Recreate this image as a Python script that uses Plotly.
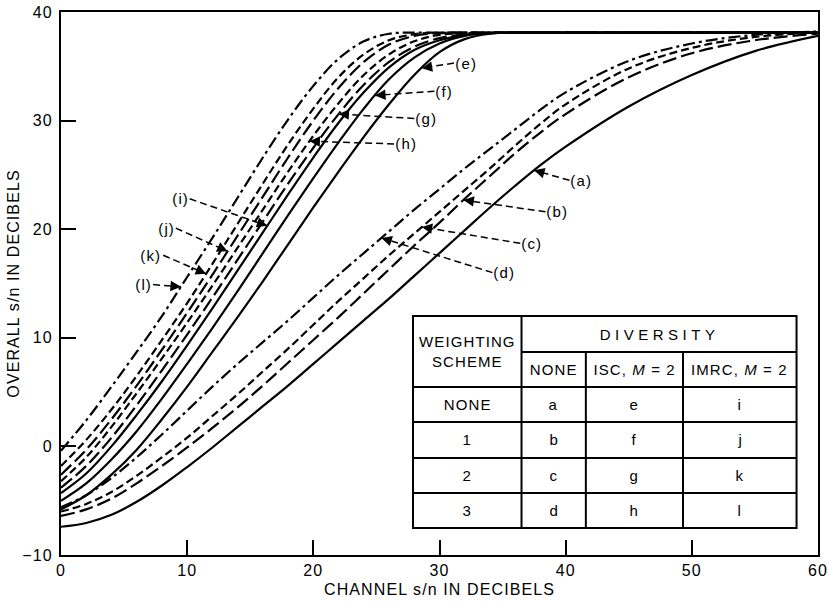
import numpy as np
import plotly.graph_objects as go

# ---- data -----------------------------------------------------------------
# channel s/n grid (dB) for the no-diversity curves a-d
x_nodiv = [0, 2, 4, 6, 8, 10, 12, 14, 16, 18, 20, 22, 24, 26, 28, 30, 32, 34,
           36, 38, 40, 45, 50, 55, 60]
# channel s/n grid (dB) for the diversity curves e-l
x_div = [0, 2, 4, 6, 8, 10, 12, 14, 16, 18, 20, 22, 24, 26, 28, 30, 32, 34,
         36, 40, 50, 60]

# overall s/n (dB), no diversity
curve_a = [-7.4, -7.05, -6.3, -5.1, -3.6, -1.9, -0.1, 1.8, 3.7, 5.6, 7.6, 9.6,
           11.6, 13.6, 15.7, 17.8, 19.9, 22.0, 24.0, 25.9, 27.6, 31.3, 34.2,
           36.4, 37.8]
curve_b = [-6.4, -5.8, -4.8, -3.4, -1.8, -0.1, 1.7, 3.6, 5.6, 7.7, 9.8, 11.9,
           14.1, 16.3, 18.5, 20.6, 22.8, 24.9, 27.0, 28.9, 30.6, 34.0, 36.2,
           37.4, 38.0]
curve_c = [-6.0, -5.3, -4.2, -2.7, -1.0, 0.8, 2.8, 4.8, 6.9, 9.0, 11.2, 13.4,
           15.5, 17.6, 19.6, 21.6, 23.6, 25.6, 27.7, 29.7, 31.5, 34.8, 36.7,
           37.7, 38.1]
curve_d = [-5.6, -4.5, -2.9, -1.0, 1.1, 3.3, 5.5, 7.6, 9.6, 11.6, 13.7, 15.8,
           17.8, 19.8, 21.8, 23.7, 25.6, 27.4, 29.2, 31.0, 32.6, 35.5, 37.1,
           37.9, 38.2]

# overall s/n (dB), ISC with M = 2
curve_e = [-5.8, -4.5, -2.6, -0.3, 2.5, 5.5, 8.7, 11.9, 15.2, 18.6, 22.0, 25.3,
           28.5, 31.5, 34.2, 36.3, 37.5, 38.0, 38.1, 38.1, 38.1, 38.1]
curve_f = [-5.0, -3.4, -1.2, 1.4, 4.4, 7.6, 10.9, 14.3, 17.8, 21.3, 24.7, 28.0,
           31.1, 33.8, 35.8, 37.1, 37.8, 38.05, 38.1, 38.1, 38.1, 38.1]
curve_g = [-3.8, -1.8, 0.8, 3.8, 7.0, 10.3, 13.7, 17.2, 20.7, 24.2, 27.5, 30.6,
           33.3, 35.4, 36.8, 37.6, 37.95, 38.05, 38.1, 38.1, 38.1, 38.1]
curve_h = [-3.2, -1.0, 1.8, 4.9, 8.1, 11.4, 14.8, 18.3, 21.8, 25.3, 28.6, 31.6,
           34.2, 36.1, 37.3, 37.9, 38.05, 38.1, 38.1, 38.1, 38.1, 38.1]

# overall s/n (dB), IMRC with M = 2
curve_i = [-4.3, -2.5, 0.0, 2.9, 6.0, 9.3, 12.7, 16.2, 19.7, 23.2, 26.6, 29.8,
           32.6, 34.9, 36.5, 37.4, 37.9, 38.05, 38.1, 38.1, 38.1, 38.1]
curve_j = [-2.6, -0.3, 2.5, 5.6, 8.9, 12.3, 15.8, 19.4, 23.0, 26.6, 30.0, 33.0,
           35.4, 37.0, 37.8, 38.05, 38.1, 38.1, 38.1, 38.1, 38.1, 38.1]
curve_k = [-1.8, 0.6, 3.4, 6.5, 9.8, 13.2, 16.8, 20.5, 24.2, 27.8, 31.1, 34.0,
           36.1, 37.4, 37.95, 38.1, 38.1, 38.1, 38.1, 38.1, 38.1, 38.1]
curve_l = [-0.4, 2.4, 5.5, 8.7, 12.0, 15.6, 19.2, 22.9, 26.6, 30.1, 33.2, 35.7,
           37.3, 38.0, 38.1, 38.1, 38.1, 38.1, 38.1, 38.1, 38.1, 38.1]

curve_names = ["a", "b", "c", "d", "e", "f", "g", "h", "i", "j", "k", "l"]

# curve labels: where each "(x)" label sits, and the channel s/n its arrow hits
label_x = [40.3, 38.4, 36.4, 34.2, 31.15, 29.6, 28.0, 26.4, 10.2, 9.1, 8.1, 7.3]
label_y = [24.5, 21.6, 18.7, 16.0, 35.3, 32.7, 30.2, 27.85, 22.8, 20.1, 17.6, 14.9]
arrow_x = [37.5, 31.9, 28.6, 25.4, 28.6, 24.9, 22.0, 19.7, 16.35, 13.2, 11.5, 9.5]

# key table
table_col_heads = ["NONE", "ISC, <i>M</i> = 2", "IMRC, <i>M</i> = 2"]
table_row_heads = ["NONE", "1", "2", "3"]
table_letters = [["a", "e", "i"],
                 ["b", "f", "j"],
                 ["c", "g", "k"],
                 ["d", "h", "l"]]

# ---- styling --------------------------------------------------------------
FONT = "Liberation Sans, Arial, Helvetica, sans-serif"
LONG = "14px,5px"
SHORT = "8px,4px"
DASHDOT = "12px,4px,3px,4px"
dash_of = {"a": "solid", "b": LONG, "c": SHORT, "d": DASHDOT,
           "e": "solid", "f": "solid", "g": LONG, "h": SHORT,
           "i": "solid", "j": LONG, "k": SHORT, "l": DASHDOT}

series = {
    "a": (x_nodiv, curve_a), "b": (x_nodiv, curve_b),
    "c": (x_nodiv, curve_c), "d": (x_nodiv, curve_d),
    "e": (x_div, curve_e), "f": (x_div, curve_f),
    "g": (x_div, curve_g), "h": (x_div, curve_h),
    "i": (x_div, curve_i), "j": (x_div, curve_j),
    "k": (x_div, curve_k), "l": (x_div, curve_l),
}

W, H = 829, 604
M_L, M_R, M_T, M_B = 61, 11, 12, 49
X_RANGE = [0, 60]
Y_RANGE = [-10, 40]
px_per_x = (W - M_L - M_R) / (X_RANGE[1] - X_RANGE[0])
px_per_y = (H - M_T - M_B) / (Y_RANGE[1] - Y_RANGE[0])

fig = go.Figure()

for name in curve_names:
    xs, ys = series[name]
    fig.add_trace(go.Scatter(
        x=xs, y=ys, mode="lines", name=f"({name})", showlegend=False,
        line=dict(color="black", width=2.2, dash=dash_of[name],
                  shape="spline", smoothing=1.0),
        hoverinfo="x+y+name"))

annotations = []
for name, lx, ly, ax_ in zip(curve_names, label_x, label_y, arrow_x):
    xs, ys = series[name]
    ay_ = float(np.interp(ax_, xs, ys))
    on_left = lx < ax_
    # dashed leader from the label to the curve
    fig.add_trace(go.Scatter(
        x=[lx, ax_], y=[ly, ay_], mode="lines", showlegend=False,
        hoverinfo="skip",
        line=dict(color="black", width=1.5, dash="7px,4px")))
    # arrowhead at the curve
    dxp = (lx - ax_) * px_per_x
    dyp = -(ly - ay_) * px_per_y
    norm = (dxp ** 2 + dyp ** 2) ** 0.5
    annotations.append(dict(
        x=ax_, y=ay_, xref="x", yref="y", text="", showarrow=True,
        ax=dxp / norm * 11, ay=dyp / norm * 11,
        arrowhead=2, arrowsize=1.3, arrowwidth=1.6, arrowcolor="black",
        standoff=0))
    annotations.append(dict(
        x=lx, y=ly, xref="x", yref="y", text=f"({name})", showarrow=False,
        xanchor="right" if on_left else "left", yanchor="middle",
        xshift=-1 if on_left else 1,
        font=dict(family=FONT, size=15, color="black")))

# ---- key table (data units) ----------------------------------------------
T_LEFT, T_RIGHT = 27.9, 58.3
T_COLS = [36.5, 41.6, 49.3]
T_TOP = 12.0
T_ROWS = [8.7, 5.47, 2.25, -1.07, -4.29, -7.51]

shapes = [dict(type="rect", xref="x", yref="y", x0=T_LEFT, x1=T_RIGHT,
               y0=T_ROWS[-1], y1=T_TOP, fillcolor="white",
               line=dict(color="black", width=2), layer="above")]
line_style = dict(color="black", width=2)
shapes.append(dict(type="line", xref="x", yref="y", x0=T_COLS[0], x1=T_RIGHT,
                   y0=T_ROWS[0], y1=T_ROWS[0], line=line_style))
for yy in T_ROWS[1:-1]:
    shapes.append(dict(type="line", xref="x", yref="y", x0=T_LEFT, x1=T_RIGHT,
                       y0=yy, y1=yy, line=line_style))
shapes.append(dict(type="line", xref="x", yref="y", x0=T_COLS[0], x1=T_COLS[0],
                   y0=T_ROWS[-1], y1=T_TOP, line=line_style))
for xx in T_COLS[1:]:
    shapes.append(dict(type="line", xref="x", yref="y", x0=xx, x1=xx,
                       y0=T_ROWS[-1], y1=T_ROWS[0], line=line_style))

tfont = dict(family=FONT, size=15, color="black")
col_edges = [T_LEFT] + T_COLS + [T_RIGHT]
col_mid = [(col_edges[i] + col_edges[i + 1]) / 2 for i in range(4)]
annotations.append(dict(x=col_mid[0], y=(T_TOP + T_ROWS[1]) / 2, xref="x",
                        yref="y", text="WEIGHTING<br>SCHEME", showarrow=False,
                        font=tfont, align="center"))
annotations.append(dict(x=(T_COLS[0] + T_RIGHT) / 2, y=(T_TOP + T_ROWS[0]) / 2,
                        xref="x", yref="y", text="DIVERSITY", showarrow=False,
                        font=tfont))
for c, head in enumerate(table_col_heads):
    annotations.append(dict(x=col_mid[c + 1], y=(T_ROWS[0] + T_ROWS[1]) / 2,
                            xref="x", yref="y", text=head, showarrow=False,
                            font=tfont))
for r, head in enumerate(table_row_heads):
    ymid = (T_ROWS[r + 1] + T_ROWS[r + 2]) / 2
    annotations.append(dict(x=col_mid[0], y=ymid, xref="x", yref="y",
                            text=head, showarrow=False, font=tfont))
    for c, letter in enumerate(table_letters[r]):
        annotations.append(dict(x=col_mid[c + 1], y=ymid, xref="x", yref="y",
                                text=letter, showarrow=False, font=tfont))

axis_common = dict(
    showline=True, linewidth=2, linecolor="black", mirror=True,
    ticks="inside", ticklen=15, tickwidth=2, tickcolor="black",
    showgrid=False, zeroline=False, automargin=False,
    tickfont=dict(family=FONT, size=16, color="black"),
)

fig.update_layout(
    width=W, height=H,
    margin=dict(l=M_L, r=M_R, t=M_T, b=M_B),
    paper_bgcolor="white", plot_bgcolor="white",
    xaxis=dict(range=X_RANGE, tickvals=[0, 10, 20, 30, 40, 50, 60],
               title=dict(text="CHANNEL s/n IN DECIBELS", standoff=6,
                          font=dict(family=FONT, size=16, color="black")),
               **axis_common),
    yaxis=dict(range=Y_RANGE, tickvals=[-10, 0, 10, 20, 30, 40],
               ticklabelstandoff=3,
               title=dict(text="OVERALL s/n IN DECIBELS", standoff=2,
                          font=dict(family=FONT, size=16, color="black")),
               **axis_common),
    shapes=shapes,
    annotations=annotations,
    showlegend=False,
)

# typeset lettering is slightly tracked; the table heading is spaced out
spacing_js = """
var gd = document.getElementById('{plot_id}');
function track() {
  gd.querySelectorAll('text').forEach(function (t) {
    t.style.letterSpacing = (t.textContent === 'DIVERSITY') ? '4.5px' : '1.1px';
  });
}
track();
gd.on('plotly_afterplot', track);
"""

fig.write_html("out.html", post_script=spacing_js)
